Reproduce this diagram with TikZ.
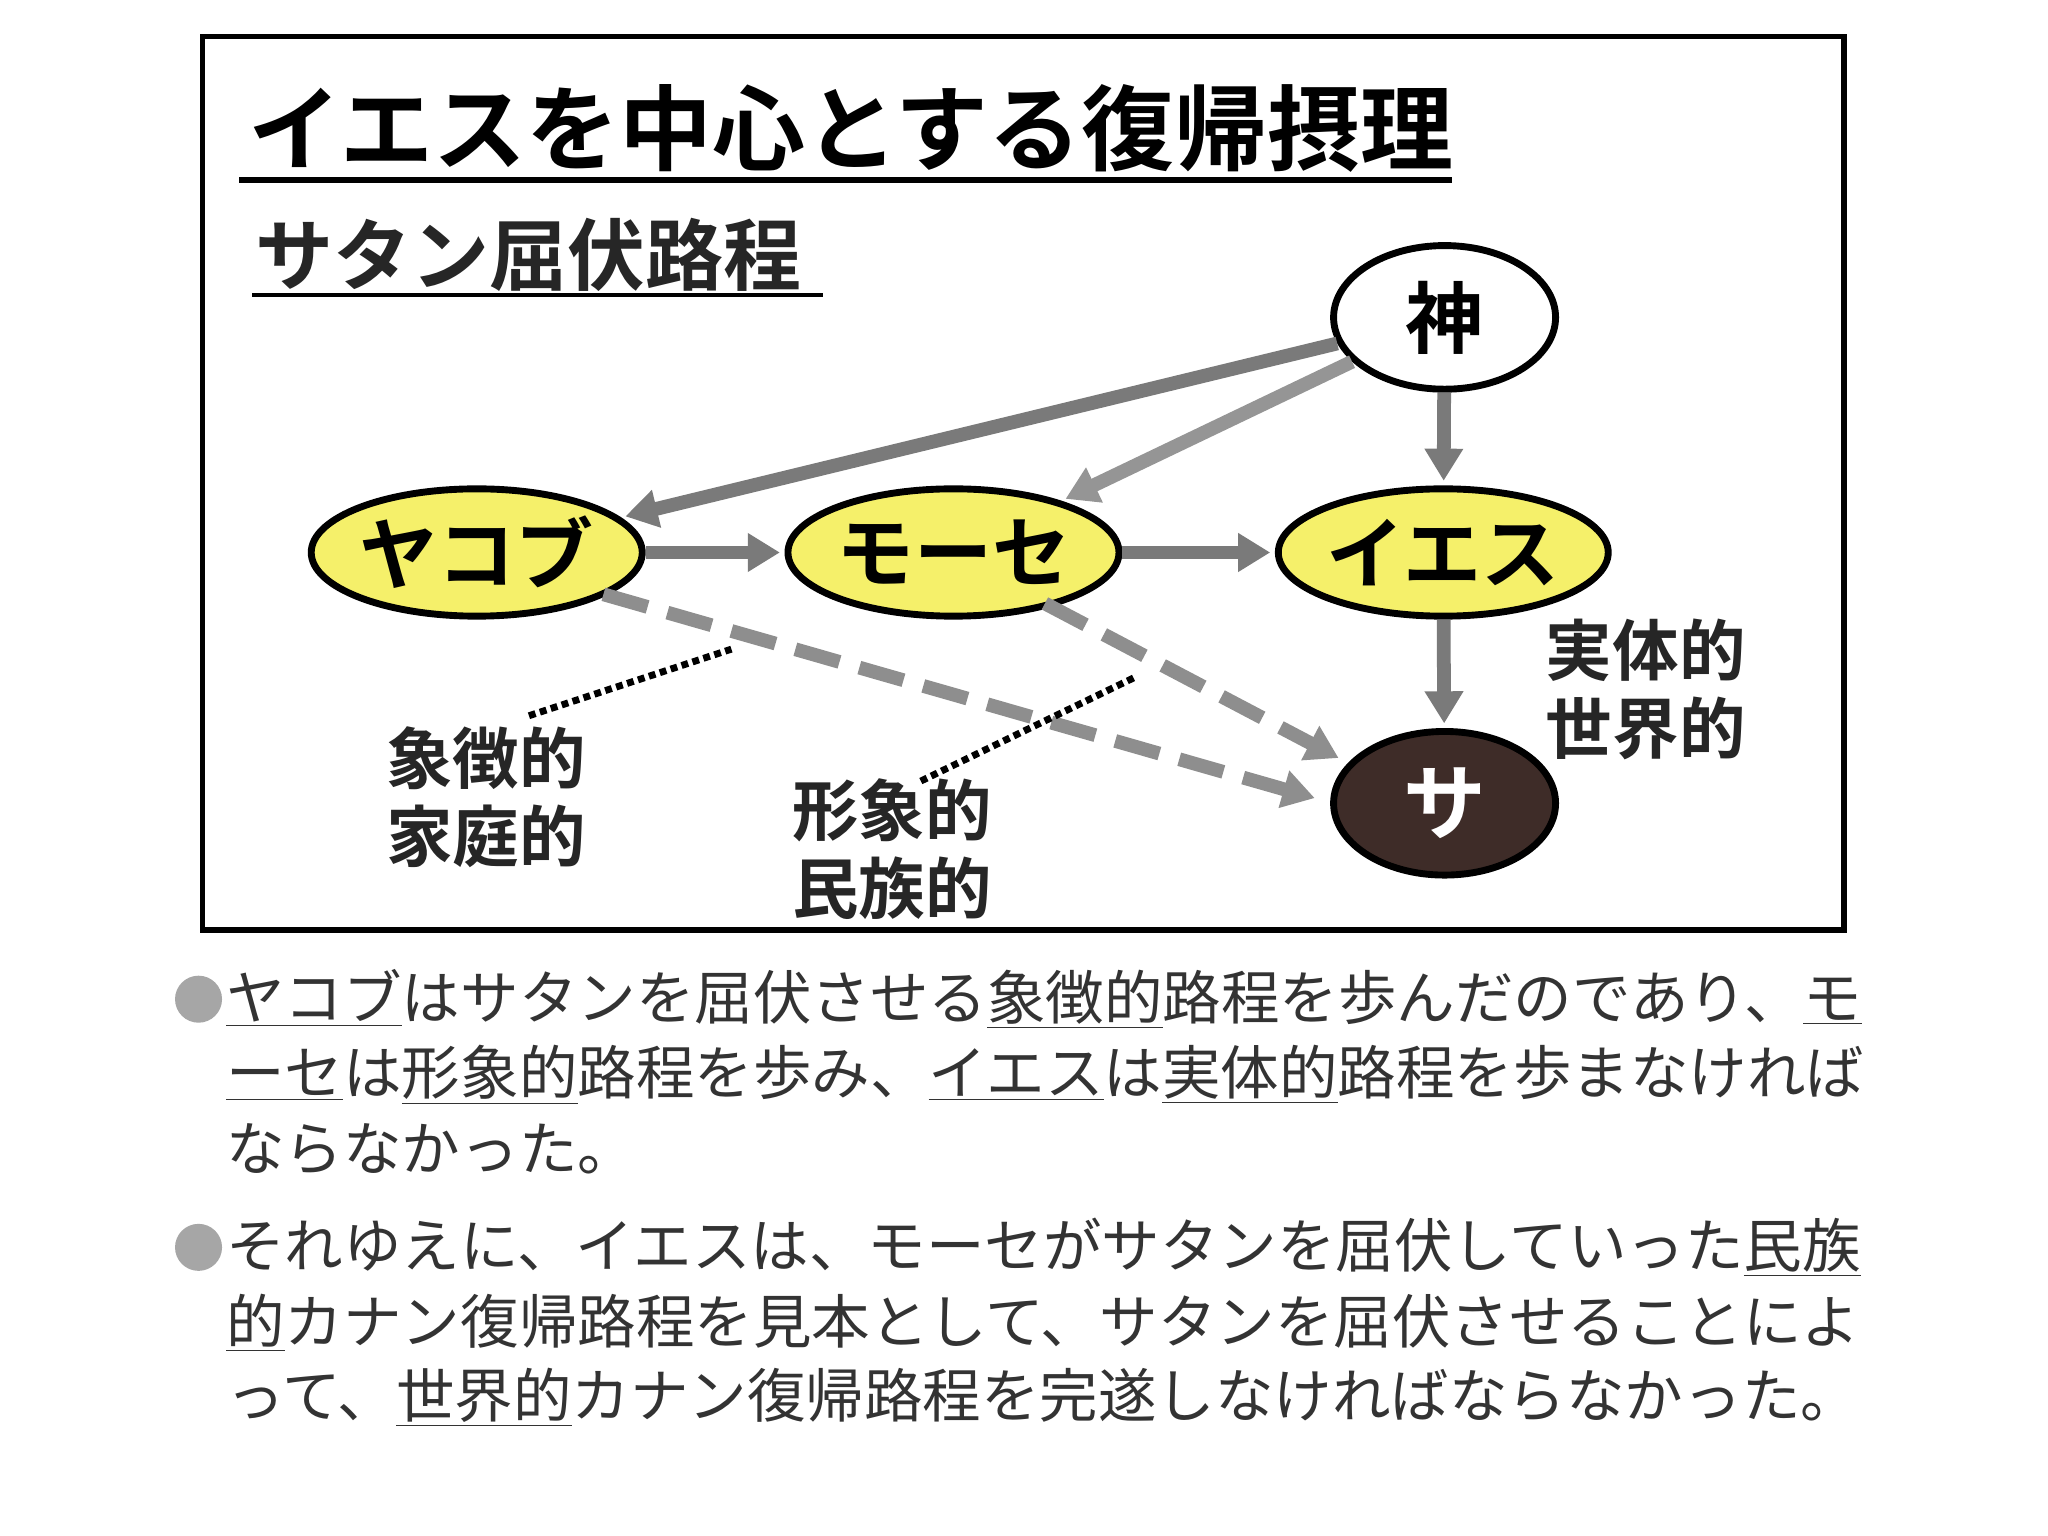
\documentclass[tikz,border=0pt]{standalone}
\usepackage{fontspec}
\newfontfamily\jp{Noto Sans CJK JP}
\newfontfamily\jpb{Noto Sans CJK JP Bold}
\usetikzlibrary{arrows.meta,shapes.geometric}
\definecolor{arr}{HTML}{7A7A7A}
\definecolor{yel}{HTML}{F5F06A}
\definecolor{sat}{HTML}{3E2C28}
\definecolor{txt}{HTML}{333333}
\begin{document}
\begin{tikzpicture}[x=0.02cm,y=-0.02cm,
  el/.style={ellipse,draw=black,line width=3pt,inner sep=0pt},
  ar/.style={draw=arr,line width=6pt,-{Triangle[length=14pt,width=16pt]},shorten >=2pt},
  da/.style={ar,dash pattern=on 20pt off 9pt},
  dt/.style={line width=3pt,dotted,black},
  lab/.style={font=\jpb\fontsize{29}{34}\selectfont,align=left,text=black!85},
  body/.style={anchor=west,font=\jp\fontsize{25.5}{30}\selectfont,text=txt,inner sep=0pt}]
\useasboundingbox (0,0) rectangle (1568,1176);
\fill[white] (0,0) rectangle (1568,1176);
\draw[line width=2.5pt] (155,28) rectangle (1412,712);
\node[anchor=west,font=\jpb\fontsize{40.5}{45}\selectfont,inner sep=0pt] (title) at (190,98) {イエスを中心とする復帰摂理};
\draw[line width=2.5pt] (183,138) -- (1112,138);
\node[anchor=west,font=\jpb\fontsize{34}{40}\selectfont,inner sep=0pt,text=black!85] (sub) at (195,195) {サタン屈伏路程};
\draw[line width=2pt] (193,226) -- (630,226);
\node[el,fill=white,minimum width=3.4cm,minimum height=2.2cm,font=\jpb\fontsize{34}{40}\selectfont] (god) at (1106,243) {神};
\node[el,fill=yel,minimum width=4.85cm,minimum height=1.95cm,font=\jpb\fontsize{34}{40}\selectfont] (jac) at (365,423) {ヤコブ};
\node[el,fill=yel,minimum width=5.05cm,minimum height=1.95cm,font=\jpb\fontsize{34}{40}\selectfont] (mos) at (730,423) {モーセ};
\node[el,fill=yel,minimum width=5.05cm,minimum height=1.95cm,font=\jpb\fontsize{34}{40}\selectfont] (jes) at (1105,423) {イエス};
\node[el,fill=sat,minimum width=3.4cm,minimum height=2.2cm,text=white,font=\jpb\fontsize{36}{40}\selectfont] (sa) at (1106,615) {サ};
\draw[ar] (god) -- (jac);
\draw[ar,draw=arr!80] (god) -- (mos);
\draw[ar] (god) -- (jes);
\draw[ar] (jac) -- (mos);
\draw[ar] (mos) -- (jes);
\draw[ar] (jes) -- (sa);
\draw[da,draw=arr!85] (462,455) -- (1010,612);
\draw[da,draw=arr!85] (800,462) -- (1028,582);
\coordinate (d1a) at (405,548); \coordinate (d1b) at (560,497);
\coordinate (d2a) at (705,598); \coordinate (d2b) at (870,518);
\draw[dt] (d1a) -- (d1b);
\draw[dt] (d2a) -- (d2b);
\node[lab] (l1) at (1260,528) {実体的\\世界的};
\node[lab] (l2) at (372,610) {象徴的\\家庭的};
\node[lab] (l3) at (683,650) {形象的\\民族的};
\fill[gray!70] (152,765) circle (18);
\fill[gray!70] (152,955) circle (18);
\node[body] (b1) at (173,765) {\underline{ヤコブ}はサタンを屈伏させる\underline{象徴的}路程を歩んだのであり、\underline{モ}};
\node[body] (b2) at (173,823) {\underline{ーセ}は\underline{形象的}路程を歩み、\underline{イエス}は\underline{実体的}路程を歩まなければ};
\node[body] (b3) at (173,880) {ならなかった。};
\node[body] (b4) at (173,955) {それゆえに、イエスは、モーセがサタンを屈伏していった\underline{民族}};
\node[body] (b5) at (173,1013) {\underline{的}カナン復帰路程を見本として、サタンを屈伏させることによ};
\node[body] (b6) at (173,1070) {って、\underline{世界的}カナン復帰路程を完遂しなければならなかった。};
\end{tikzpicture}
\end{document}
